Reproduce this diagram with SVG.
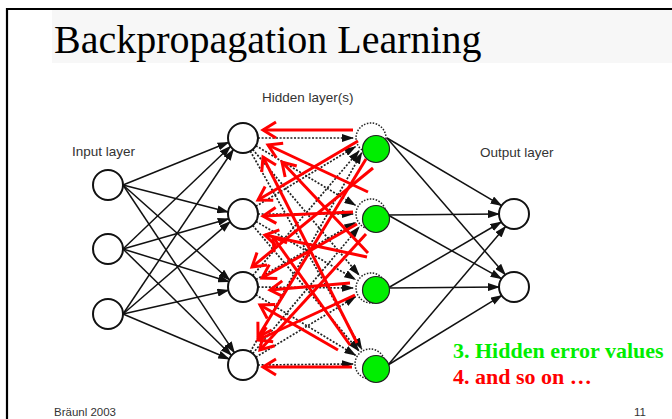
<svg xmlns="http://www.w3.org/2000/svg" width="672" height="419" viewBox="0 0 672 419">
<style>
.frame{stroke:#000;stroke-width:2.2;fill:none}
.lbl{font-family:"Liberation Sans",Arial,sans-serif;font-size:13.5px;fill:#333}
.foot{font-family:"Liberation Sans",Arial,sans-serif;font-size:11.5px;fill:#333}
.node{fill:#fff;stroke:#111;stroke-width:2}
.dnode{fill:#fff;stroke:#222;stroke-width:1.5;stroke-dasharray:1.5 1.5}
.green{fill:#00ee00;stroke:#222;stroke-width:1.2}
.solid{stroke:#111;stroke-width:1.5;fill:none;marker-end:url(#ah)}
.dot{stroke:#222;stroke-width:1.7;fill:none;stroke-dasharray:2 1.6;marker-end:url(#ah)}
.red{stroke:#ff0000;stroke-width:3;fill:none;marker-end:url(#rh)}
.big{font-family:"Liberation Serif","Times New Roman",serif;font-weight:bold;font-size:22px}
</style>
<defs>
<marker id="ah" markerUnits="userSpaceOnUse" markerWidth="12" markerHeight="8" viewBox="0 0 12 8" refX="11" refY="4" orient="auto">
<path d="M0,0 L12,4 L0,8 z" fill="#111"/>
</marker>
<marker id="rh" markerUnits="userSpaceOnUse" markerWidth="22" markerHeight="22" viewBox="-18 -11 22 22" refX="0" refY="0" orient="auto" overflow="visible">
<path d="M-13,-8 L0,0 L-13,8" fill="none" stroke="#ff0000" stroke-width="3"/>
</marker>
</defs>
<rect width="672" height="419" fill="#fff"/>
<rect x="52" y="10" width="620" height="53" fill="#f7f7f7"/>
<path class="frame" d="M7,419 V9 H672"/>
<text x="54" y="53" font-family="'Liberation Serif','Times New Roman',serif" font-size="40" fill="#000">Backpropagation Learning</text>
<text class="lbl" x="262" y="102">Hidden layer(s)</text>
<text class="lbl" x="72" y="156">Input layer</text>
<text class="lbl" x="480" y="157">Output layer</text>
<g id="connectors">
<g id="in-hidden">
<line class="solid" x1="123" y1="185" x2="228.6" y2="142.3"/>
<line class="solid" x1="123" y1="185" x2="228.1" y2="212.1"/>
<line class="solid" x1="123" y1="185" x2="229.7" y2="280.0"/>
<line class="solid" x1="123" y1="185" x2="234.4" y2="352.6"/>
<line class="solid" x1="123" y1="249" x2="230.6" y2="146.3"/>
<line class="solid" x1="123" y1="249" x2="228.7" y2="218.7"/>
<line class="solid" x1="123" y1="249" x2="229.0" y2="281.8"/>
<line class="solid" x1="123" y1="249" x2="231.4" y2="355.2"/>
<line class="solid" x1="123" y1="314" x2="233.4" y2="149.5"/>
<line class="solid" x1="123" y1="314" x2="230.2" y2="221.6"/>
<line class="solid" x1="123" y1="314" x2="228.4" y2="290.3"/>
<line class="solid" x1="123" y1="314" x2="229.2" y2="359.0"/>
</g>
<g id="hidden-out">
<line class="solid" x1="387" y1="138" x2="501.5" y2="205.6"/>
<line class="solid" x1="387" y1="138" x2="505.3" y2="274.7"/>
<line class="solid" x1="388" y1="215" x2="499" y2="214"/>
<line class="solid" x1="388" y1="215" x2="501.5" y2="278.7"/>
<line class="solid" x1="388" y1="288" x2="501.3" y2="222.0"/>
<line class="solid" x1="388" y1="288" x2="499" y2="287"/>
<line class="solid" x1="388" y1="365" x2="505.6" y2="226.4"/>
<line class="solid" x1="388" y1="365" x2="501.8" y2="295.4"/>
</g>
<g id="dotted">
<line class="dot" x1="258" y1="138" x2="353" y2="138"/>
<line class="dot" x1="255.9" y1="145.7" x2="355.4" y2="205.3"/>
<line class="dot" x1="252.7" y1="149.4" x2="359.0" y2="275.0"/>
<line class="dot" x1="250.3" y1="151.1" x2="361.7" y2="349.2"/>
<line class="dot" x1="255.9" y1="206.3" x2="355.4" y2="146.7"/>
<line class="dot" x1="258" y1="214" x2="353" y2="214"/>
<line class="dot" x1="256.0" y1="221.5" x2="355.3" y2="279.4"/>
<line class="dot" x1="252.7" y1="225.4" x2="359.0" y2="351.0"/>
<line class="dot" x1="252.7" y1="275.6" x2="359.0" y2="150.9"/>
<line class="dot" x1="256.0" y1="279.5" x2="355.3" y2="222.5"/>
<line class="dot" x1="258" y1="287" x2="353" y2="288"/>
<line class="dot" x1="255.8" y1="294.8" x2="355.5" y2="355.2"/>
<line class="dot" x1="250.3" y1="351.9" x2="361.7" y2="152.8"/>
<line class="dot" x1="252.7" y1="353.5" x2="359.1" y2="227.0"/>
<line class="dot" x1="255.8" y1="357.2" x2="355.5" y2="296.8"/>
<line class="dot" x1="258" y1="365" x2="353" y2="364"/>
</g>
</g>
<g id="input-layer">
<circle id="in1" class="node" cx="108" cy="185" r="15"/>
<circle id="in2" class="node" cx="108" cy="249" r="15"/>
<circle id="in3" class="node" cx="108" cy="314" r="15"/>
</g>
<g id="hidden-layer">
<circle id="h1" class="node" cx="243" cy="138" r="15"/>
<circle id="h2" class="node" cx="243" cy="214" r="15"/>
<circle id="h3" class="node" cx="243" cy="287" r="15"/>
<circle id="h4" class="node" cx="243" cy="365" r="15"/>
</g>
<g id="dotted-layer">
<circle id="d1" class="dnode" cx="371" cy="138" r="15"/>
<circle id="d2" class="dnode" cx="371" cy="214" r="15"/>
<circle id="d3" class="dnode" cx="371" cy="288" r="15"/>
<circle id="d4" class="dnode" cx="370" cy="364" r="15"/>
</g>
<g id="output-layer">
<circle id="o1" class="node" cx="514" cy="214" r="15"/>
<circle id="o2" class="node" cx="514" cy="287" r="15"/>
</g>
<g id="red-arrows">
<line class="red" x1="353" y1="130" x2="263" y2="130"/>
<line class="red" x1="358" y1="141" x2="258" y2="200"/>
<line class="red" x1="373" y1="168" x2="252" y2="267"/>
<line class="red" x1="366" y1="159" x2="258" y2="337"/>
<line class="red" x1="368" y1="192" x2="268" y2="145"/>
<line class="red" x1="353" y1="212" x2="263" y2="216"/>
<line class="red" x1="357" y1="224" x2="262" y2="278"/>
<line class="red" x1="366" y1="234" x2="260" y2="350"/>
<line class="red" x1="368" y1="253" x2="282" y2="162"/>
<line class="red" x1="367" y1="257" x2="265" y2="235"/>
<line class="red" x1="350" y1="283" x2="270" y2="290"/>
<line class="red" x1="355" y1="295" x2="258" y2="340"/>
<line class="red" x1="357" y1="343" x2="263" y2="157"/>
<line class="red" x1="350" y1="345" x2="273" y2="237"/>
<line class="red" x1="338" y1="350" x2="260" y2="305"/>
<line class="red" x1="352" y1="367" x2="263" y2="367"/>
</g>
<g id="green-layer">
<circle id="g1" class="green" cx="376" cy="149" r="13.5"/>
<circle id="g2" class="green" cx="376" cy="219" r="13.5"/>
<circle id="g3" class="green" cx="376" cy="290" r="13.5"/>
<circle id="g4" class="green" cx="376" cy="369" r="13.5"/>
</g>
<text class="big" x="453" y="358" fill="#00ee00">3. Hidden error values</text>
<text class="big" x="453" y="384" fill="#ff0000">4. and so on …</text>
<text class="foot" x="54" y="416">Bräunl 2003</text>
<text class="foot" x="634" y="416">11</text>
</svg>
